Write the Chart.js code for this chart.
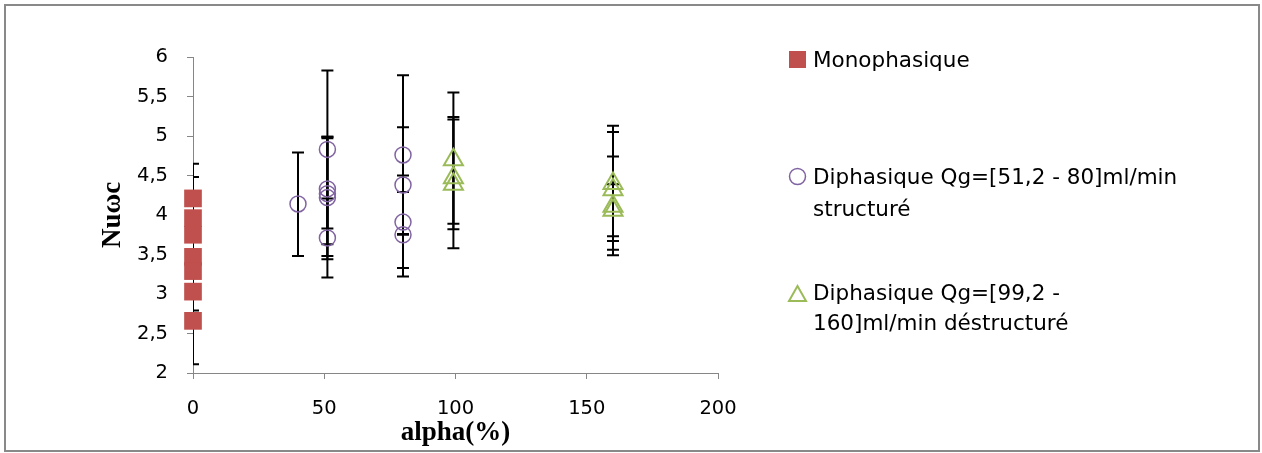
<!DOCTYPE html>
<html>
<head>
<meta charset="utf-8">
<script src="https://cdn.jsdelivr.net/npm/chart.js@4.4.1/dist/chart.umd.min.js"></script>
<style>
  html, body { margin: 0; padding: 0; background: #fff; }
  #wrap { position: relative; width: 1262px; height: 453px; overflow: hidden; background: #fff; }
  #c { position: absolute; left: 0; top: 0; }
  #frame { position: absolute; left: 4px; top: 4px; width: 1256px; height: 448px; box-sizing: border-box; border: 2px solid #898989; pointer-events: none; }
  .lt { position: absolute; left: 813px; font-family: "DejaVu Sans", sans-serif; font-size: 21.5px; color: #000; white-space: nowrap; }
  .lm { position: absolute; left: 0; top: 0; }
</style>
</head>
<body>
<div id="wrap">
  <canvas id="c" width="1262" height="453"></canvas>
  <div id="frame"></div>
  <svg class="lm" width="1262" height="453">
    <rect x="789" y="51" width="17" height="17" fill="#C0504D"></rect>
    <circle cx="797.5" cy="176.5" r="8" fill="none" stroke="#8064A2" stroke-width="1.5"></circle>
    <polygon points="797.5,286 789,301 806,301" fill="none" stroke="#9BBB59" stroke-width="2"></polygon>
  </svg>
  <div class="lt" style="top:43.5px;line-height:31px;">Monophasique</div>
  <div class="lt" style="top:160.5px;line-height:32px;">Diphasique Qg=[51,2 - 80]ml/min<br>structuré</div>
  <div class="lt" style="top:278px;line-height:30px;">Diphasique Qg=[99,2 -<br>160]ml/min déstructuré</div>
</div>
<script>
// ---- data ----
const monoX = [0, 0, 0, 0, 0, 0, 0];
const monoY = [4.21, 3.96, 3.75, 3.47, 3.29, 3.03, 2.66];
const monoErrPlus  = [0.44, 0.52, 0.40, 0.40, 0.50, 0.35, 0.36];
const monoErrMinus = [0.44, 0.52, 0.40, 0.40, 0.50, 0.35, 0.55];

const diStrX = [40, 51.2, 51.2, 51.2, 51.2, 51.2, 80, 80, 80, 80];
const diStrY = [4.14, 4.83, 4.33, 4.27, 4.22, 3.71, 4.76, 4.38, 3.91, 3.75];
const diStrErrPlus  = [0.65, 1.00, 0.66, 0.72, 0.75, 0.50, 1.01, 0.73, 0.59, 0.54];
const diStrErrMinus = [0.66, 1.00, 0.70, 0.79, 0.78, 0.50, 1.01, 0.62, 0.58, 0.53];

const diDesX = [99.2, 99.2, 99.2, 160, 160, 160, 160];
const diDesY = [4.70, 4.47, 4.39, 4.40, 4.32, 4.11, 4.06];
const diDesErrPlus  = [0.85, 0.77, 0.82, 0.73, 0.73, 0.63, 0.33];
const diDesErrMinus = [0.81, 0.65, 0.81, 0.73, 0.76, 0.62, 0.33];

const seriesNames = ['Monophasique', 'Diphasique Qg=[51,2 - 80]ml/min structuré', 'Diphasique Qg=[99,2 - 160]ml/min déstructuré'];
const xTicks = [0, 50, 100, 150, 200];
const xTickLabels = ['0', '50', '100', '150', '200'];
const yTicks = [2, 2.5, 3, 3.5, 4, 4.5, 5, 5.5, 6];
const yTickLabels = ['2', '2,5', '3', '3,5', '4', '4,5', '5', '5,5', '6'];
const xTitle = 'alpha(%)';
const yTitle = 'Nuωc';

function pts(xs, ys) { return xs.map((x, i) => ({ x: x, y: ys[i] })); }

const errorBars = {
  id: 'errorBars',
  beforeDatasetsDraw(chart) {
    const ctx = chart.ctx, xs = chart.scales.x, ys = chart.scales.y, a = chart.chartArea;
    ctx.save();
    ctx.beginPath();
    ctx.rect(a.left, a.top, a.right - a.left, a.bottom - a.top);
    ctx.clip();
    ctx.strokeStyle = '#000';
    ctx.lineWidth = 2;
    chart.data.datasets.forEach(ds => {
      ds.data.forEach((p, i) => {
        const px = xs.getPixelForValue(p.x);
        const hi = ys.getPixelForValue(p.y + ds.errPlus[i]);
        const lo = ys.getPixelForValue(p.y - ds.errMinus[i]);
        ctx.beginPath();
        ctx.moveTo(px, hi); ctx.lineTo(px, lo);
        ctx.moveTo(px - 6, hi); ctx.lineTo(px + 6, hi);
        ctx.moveTo(px - 6, lo); ctx.lineTo(px + 6, lo);
        ctx.stroke();
      });
    });
    ctx.restore();
  }
};

const tickFont = { family: 'DejaVu Sans', size: 19.5 };
const titleFont = { family: 'Liberation Serif', size: 27, weight: 'bold' };

new Chart(document.getElementById('c'), {
  type: 'scatter',
  data: {
    datasets: [
      { label: seriesNames[0], data: pts(monoX, monoY), errPlus: monoErrPlus, errMinus: monoErrMinus,
        pointStyle: 'rect', pointRadius: 12.5, pointHoverRadius: 12.5, backgroundColor: '#C0504D', borderColor: '#C0504D', borderWidth: 0, clip: false },
      { label: seriesNames[1], data: pts(diStrX, diStrY), errPlus: diStrErrPlus, errMinus: diStrErrMinus,
        pointStyle: 'circle', pointRadius: 8, pointHoverRadius: 8, backgroundColor: 'rgba(0,0,0,0)', borderColor: '#8064A2', borderWidth: 1.5, clip: false },
      { label: seriesNames[2], data: pts(diDesX, diDesY), errPlus: diDesErrPlus, errMinus: diDesErrMinus,
        pointStyle: 'triangle', pointRadius: 11, pointHoverRadius: 11, backgroundColor: 'rgba(0,0,0,0)', borderColor: '#9BBB59', borderWidth: 2, clip: false }
    ]
  },
  options: {
    responsive: false,
    animation: false,
    devicePixelRatio: 1,
    layout: { padding: { left: 0, top: 57, right: 544, bottom: 0 } },
    plugins: { legend: { display: false }, tooltip: { enabled: false } },
    scales: {
      x: {
        type: 'linear', position: 'bottom', min: 0, max: 200,
        afterBuildTicks(s) { s.ticks = xTicks.map(v => ({ value: v })); },
        afterFit(s) { s.height = 80; },
        ticks: { color: '#000', font: tickFont, padding: 18, maxRotation: 0, autoSkip: false,
                 callback: (v, i) => xTickLabels[i] },
        grid: { drawOnChartArea: false, drawTicks: true, tickLength: 6, color: '#868686', lineWidth: 1 },
        border: { display: true, color: '#868686', width: 1 },
        title: { display: true, text: xTitle, color: '#000', font: titleFont, padding: { top: 0, bottom: 4 } }
      },
      y: {
        type: 'linear', position: 'left', min: 2, max: 6,
        afterBuildTicks(s) { s.ticks = yTicks.map(v => ({ value: v })); },
        afterFit(s) { s.width = 193; },
        ticks: { color: '#000', font: tickFont, padding: 19, autoSkip: false,
                 callback: (v, i) => yTickLabels[i] },
        grid: { drawOnChartArea: false, drawTicks: true, tickLength: 6, color: '#868686', lineWidth: 1 },
        border: { display: true, color: '#868686', width: 1 },
        title: { display: true, text: yTitle, color: '#000', font: titleFont, padding: { top: 97, bottom: 0 } }
      }
    }
  },
  plugins: [errorBars]
});
</script>
</body>
</html>
